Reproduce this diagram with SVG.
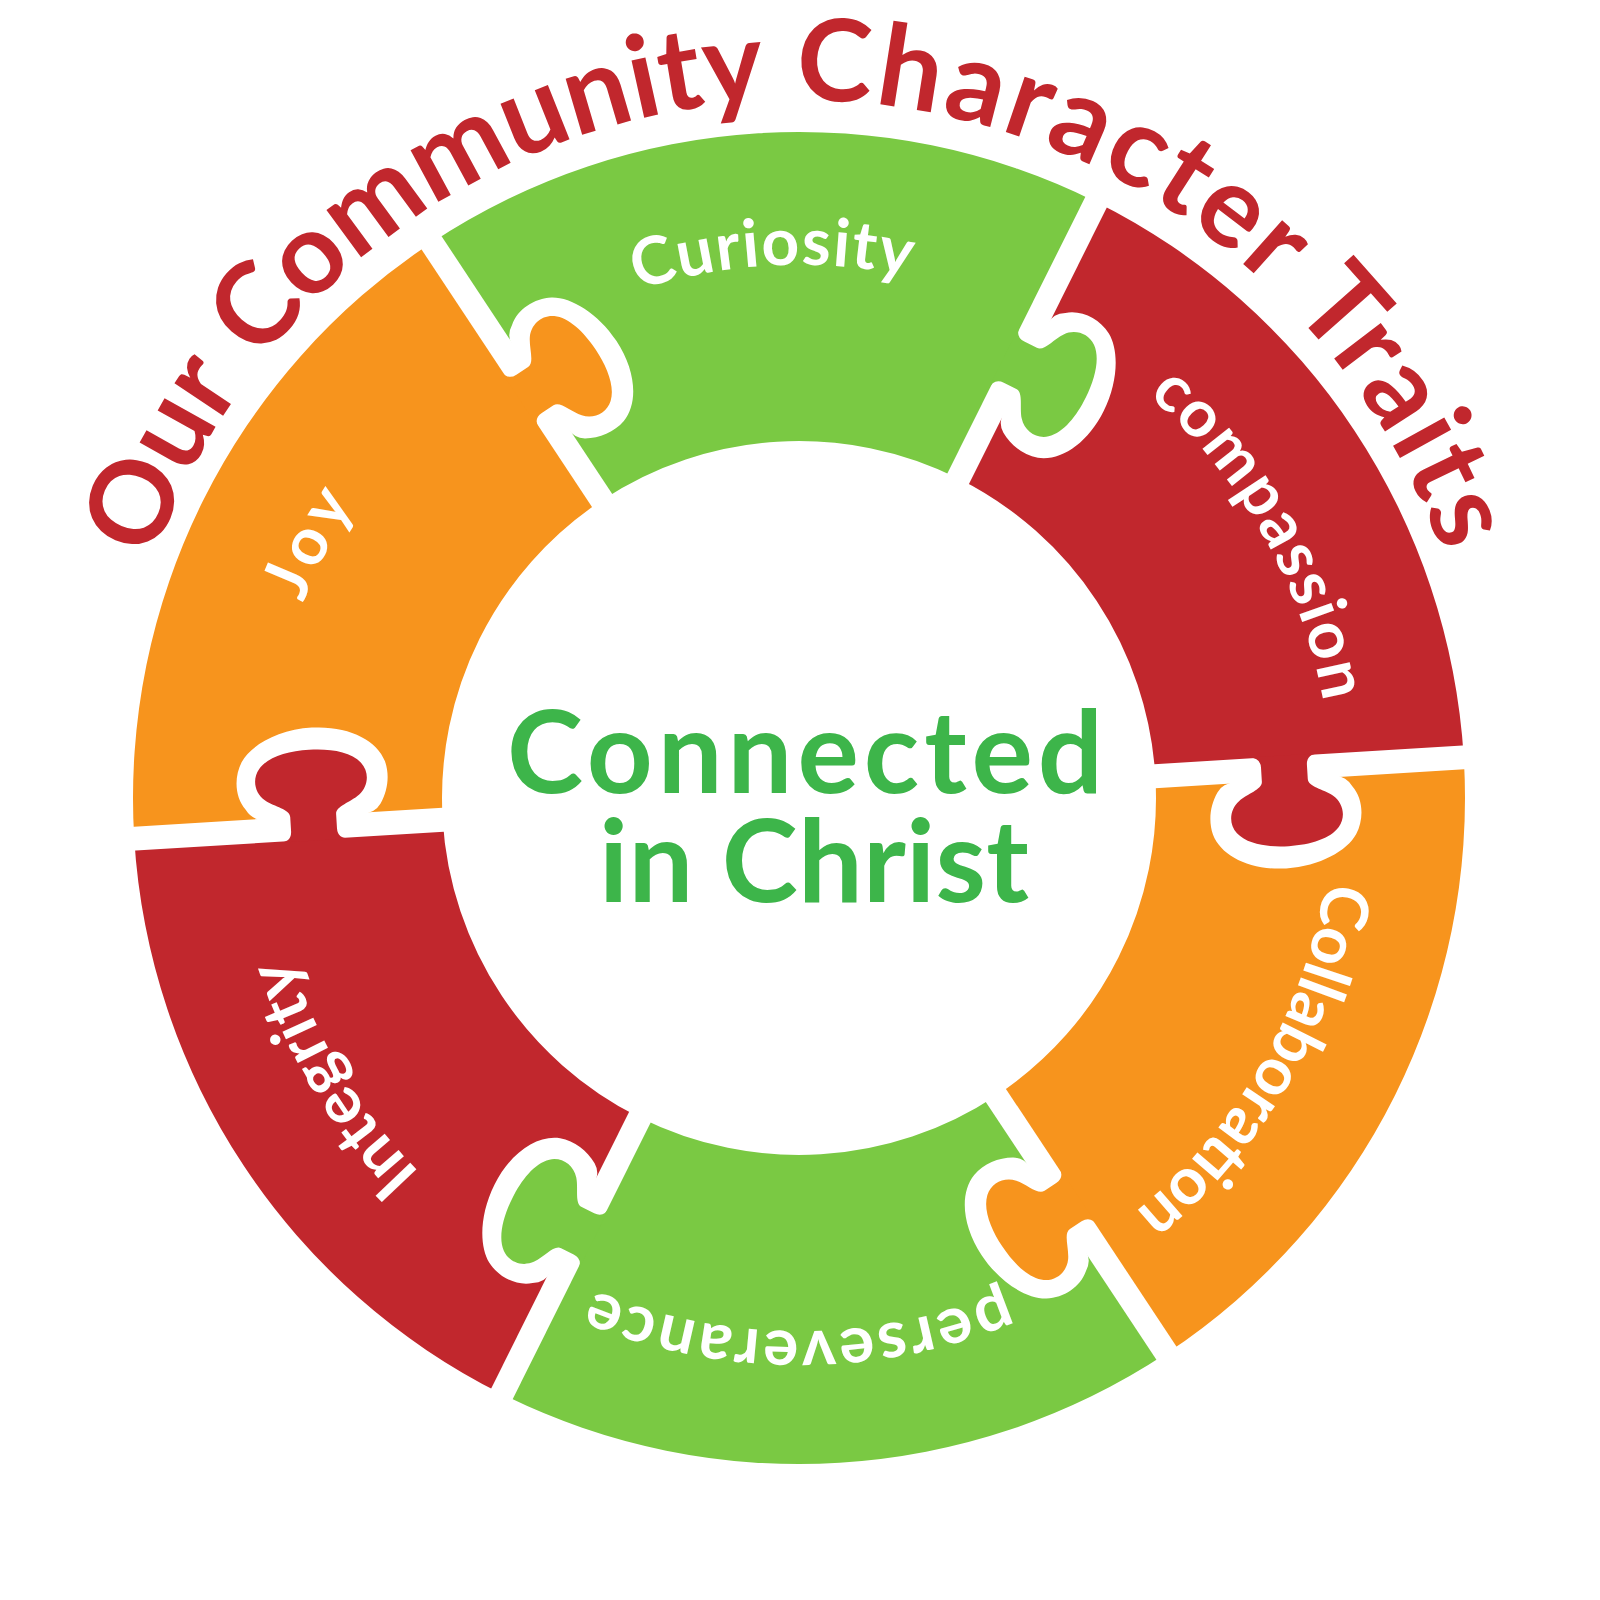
<svg xmlns="http://www.w3.org/2000/svg" width="1600" height="1600" viewBox="0 0 1600 1600">
  <style>
    .orange { fill: #f7941d; }
    .green { fill: #7ac943; }
    .red { fill: #c1272d; }
    .gap { fill: #ffffff; }
    .label { font-family: Lato, "Open Sans", sans-serif; font-weight: 700; font-size: 66px; fill: #ffffff; }
    .title { font-family: Lato, "Open Sans", sans-serif; font-weight: 700; font-size: 114px; fill: #c1272d; }
    .center { font-family: Lato, "Open Sans", sans-serif; font-weight: 700; font-size: 115px; fill: #3db54a; }
  </style>
  <defs>
    <path id="sector" d="M 357,0 L 666,0 A 666 666 0 0 1 333,576.77 L 178.5,309.17 A 357 357 0 0 0 357,0 Z"/>
    <path id="band" d="M 340,-12 L 690,-12 L 690,12 L 340,12 Z"/>
    <path id="socket" d="M 436,11 Q 424,11 418,20 C 410,32 407,48 411,62 C 418,84 446,100 482,100 C 516,100 544,86 554,70 C 563,55 563,35 553,22 Q 547,11 536,11 Z"/>
    <path id="tab" d="M 450,-13 Q 463,-13 463,-2 L 463,12 C 463,20 448,23 439,30 C 429,38 427,52 435,62 C 445,74 466,78 486,78 C 508,78 528,73 537,62 C 545,52 543,38 533,30 C 524,23 509,20 509,12 L 509,-2 Q 509,-13 522,-13 Z"/>
    <path id="labelArc" d="M 266,798 A 533 533 0 1 1 1332,798 A 533 533 0 1 1 266,798"/>
    <path id="titleArc" d="M 116,783 A 683 683 0 1 1 1482,783 A 683 683 0 1 1 116,783"/>
  </defs>
  <rect width="1600" height="1600" fill="#ffffff"/>

  <g id="title">
    <text class="title"><textPath href="#titleArc" startOffset="324.8" text-anchor="middle" textLength="197" lengthAdjust="spacing">Our</textPath></text>
    <text class="title"><textPath href="#titleArc" startOffset="746.2" text-anchor="middle" textLength="587" lengthAdjust="spacing">Community</textPath></text>
    <text class="title"><textPath href="#titleArc" startOffset="1330.3" text-anchor="middle" textLength="523" lengthAdjust="spacing">Character</textPath></text>
    <text class="title"><textPath href="#titleArc" startOffset="1766.6" text-anchor="middle" textLength="291" lengthAdjust="spacing">Traits</textPath></text>
  </g>

  <g id="node-collaboration">
    <use href="#sector" class="orange" transform="translate(799,798) rotate(-3.5)"/>
    <text class="label"><textPath href="#labelArc" startOffset="1953.5" text-anchor="middle" textLength="390" lengthAdjust="spacing">Collaboration</textPath></text>
  </g>
  <g id="node-perseverance">
    <use href="#sector" class="green" transform="translate(799,798) rotate(56.5)"/>
    <text class="label"><textPath href="#labelArc" startOffset="2511.7" text-anchor="middle" textLength="421" lengthAdjust="spacing">perseverance</textPath></text>
  </g>
  <g id="node-integrity">
    <use href="#sector" class="red" transform="translate(799,798) rotate(116.5)"/>
    <text class="label"><textPath href="#labelArc" startOffset="3060.5" text-anchor="middle" textLength="254" lengthAdjust="spacing">Integrity</textPath></text>
  </g>
  <g id="node-joy">
    <use href="#sector" class="orange" transform="translate(799,798) rotate(176.5)"/>
    <text class="label"><textPath href="#labelArc" startOffset="255.8" text-anchor="middle" textLength="112" lengthAdjust="spacing">Joy</textPath></text>
  </g>
  <g id="node-curiosity">
    <use href="#sector" class="green" transform="translate(799,798) rotate(236.5)"/>
    <text class="label"><textPath href="#labelArc" startOffset="811" text-anchor="middle" textLength="276" lengthAdjust="spacing">Curiosity</textPath></text>
  </g>
  <g id="node-compassion">
    <use href="#sector" class="red" transform="translate(799,798) rotate(296.5)"/>
    <text class="label"><textPath href="#labelArc" startOffset="1398" text-anchor="middle" textLength="360" lengthAdjust="spacing">compassion</textPath></text>
  </g>

  <g id="joints">
    <g transform="translate(799,798) rotate(-3.5)">
      <use href="#band" class="gap"/><use href="#socket" class="gap"/><use href="#tab" class="red"/>
    </g>
    <g transform="translate(799,798) rotate(56.5)">
      <use href="#band" class="gap"/><use href="#socket" class="gap"/><use href="#tab" class="orange"/>
    </g>
    <g transform="translate(799,798) rotate(116.5)">
      <use href="#band" class="gap"/><use href="#socket" class="gap"/><use href="#tab" class="green"/>
    </g>
    <g transform="translate(799,798) rotate(176.5)">
      <use href="#band" class="gap"/><use href="#socket" class="gap"/><use href="#tab" class="red"/>
    </g>
    <g transform="translate(799,798) rotate(236.5)">
      <use href="#band" class="gap"/><use href="#socket" class="gap"/><use href="#tab" class="orange"/>
    </g>
    <g transform="translate(799,798) rotate(296.5)">
      <use href="#band" class="gap"/><use href="#socket" class="gap"/><use href="#tab" class="green"/>
    </g>
  </g>

  <g id="node-center">
    <text class="center" x="805" y="793" text-anchor="middle" textLength="596" lengthAdjust="spacing">Connected</text>
    <text class="center" x="814" y="902" text-anchor="middle" textLength="430" lengthAdjust="spacing">in Christ</text>
  </g>
</svg>
